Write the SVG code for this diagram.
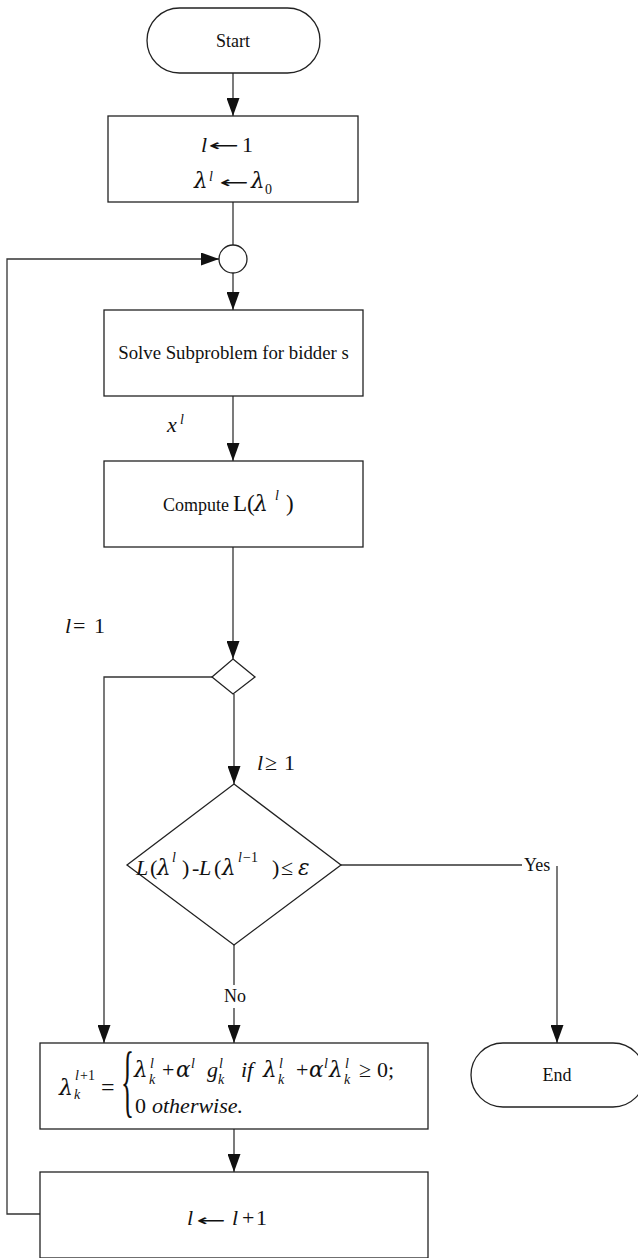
<svg xmlns="http://www.w3.org/2000/svg" width="638" height="1258" viewBox="0 0 638 1258">
<style>
.shape{fill:#fff;stroke:#222;stroke-width:1.3}
.edge{fill:none;stroke:#333;stroke-width:1.3}
text{font-family:"Liberation Serif","Times New Roman",serif;fill:#111}
.t18{font-size:18px}
.m{font-size:22px}
.i{font-style:italic}
.s{font-size:14px}
.g{font-family:"DejaVu Serif",serif;font-style:italic;font-size:21.5px}
.ar{font-family:"DejaVu Sans",sans-serif;font-size:16px}
</style>
<defs>
<marker id="ah" markerUnits="userSpaceOnUse" markerWidth="18" markerHeight="13" refX="18" refY="6.5" orient="auto">
<path d="M0,0 L18,6.5 L0,13 z" fill="#111"/>
</marker>
</defs>
<rect width="638" height="1258" fill="#fff"/>

<g id="connectors">
<line class="edge" x1="233" y1="73" x2="233" y2="116" marker-end="url(#ah)"/>
<line class="edge" x1="233" y1="202" x2="233" y2="245"/>
<line class="edge" x1="233" y1="273" x2="233" y2="310" marker-end="url(#ah)"/>
<line class="edge" x1="233" y1="396" x2="233" y2="461" marker-end="url(#ah)"/>
<line class="edge" x1="233" y1="547" x2="233" y2="659" marker-end="url(#ah)"/>
<line class="edge" x1="234" y1="694" x2="234" y2="784" marker-end="url(#ah)"/>
<polyline class="edge" points="212,677 104,677 104,1043" marker-end="url(#ah)"/>
<line class="edge" x1="234" y1="945" x2="234" y2="985"/>
<line class="edge" x1="234" y1="1008" x2="234" y2="1043" marker-end="url(#ah)"/>
<line class="edge" x1="341" y1="865" x2="522" y2="865"/>
<line class="edge" x1="557" y1="866" x2="557" y2="1043" marker-end="url(#ah)"/>
<line class="edge" x1="234" y1="1129" x2="234" y2="1172" marker-end="url(#ah)"/>
<polyline class="edge" points="40,1214 7,1214 7,259 219,259" marker-end="url(#ah)"/>
<text class="t18" x="524" y="871">Yes</text>
<text class="t18" x="224" y="1002">No</text>
<text class="m i" x="167" y="432">x</text><text class="s i" x="180" y="424">l</text>
<text class="m" y="633"><tspan class="i" x="65">l</tspan><tspan x="73">=</tspan><tspan x="94">1</tspan></text>
<text class="m" y="770"><tspan class="i" x="257">l</tspan><tspan x="265">≥</tspan><tspan x="284">1</tspan></text>
</g>

<g id="start">
<rect class="shape" x="147" y="8" width="173" height="65" rx="32.5" ry="32.5"/>
<text class="t18" x="233" y="47" text-anchor="middle">Start</text>
</g>

<g id="init">
<rect class="shape" x="108" y="116" width="250" height="86"/>
<text class="m" y="152"><tspan class="i" x="201">l</tspan><tspan x="242">1</tspan></text>
<text class="ar" transform="translate(208,151) scale(2.3,1)">←</text>
<text class="g" x="194" y="188">λ</text>
<text class="g" x="251" y="188">λ</text>
<text class="ar" transform="translate(219,188) scale(2.2,1)">←</text>
<text class="s i" x="209" y="181">l</text>
<text class="s" x="265" y="194">0</text>
</g>

<g id="merge">
<circle class="shape" cx="233" cy="259" r="14"/>
</g>

<g id="solve">
<rect class="shape" x="104" y="310" width="259" height="86"/>
<text class="t18" x="233.5" y="359" text-anchor="middle" style="font-size:18.8px">Solve Subproblem for bidder s</text>
</g>

<g id="compute">
<rect class="shape" x="104" y="461" width="259" height="86"/>
<text class="t18" x="163" y="511">Compute</text>
<text class="m" y="511" style="font-size:23px"><tspan x="233">L(</tspan><tspan x="286">)</tspan></text>
<text class="g" x="254" y="511" style="font-size:22px">λ</text>
<text class="s i" x="275" y="500">l</text>
</g>

<g id="check-first">
<polygon class="shape" points="233,659 255,677 233,694 212,677"/>
</g>

<g id="converge">
<polygon class="shape" points="234,784 341,865 234,945 127,865"/>
<text class="m" y="875"><tspan class="i" x="136">L</tspan><tspan x="150">(</tspan><tspan x="182">)</tspan><tspan x="192">-</tspan><tspan class="i" x="199">L</tspan><tspan x="214">(</tspan><tspan x="272">)</tspan><tspan x="281">≤</tspan></text>
<text class="g" y="875"><tspan x="157">λ</tspan><tspan x="222">λ</tspan><tspan x="298">ε</tspan></text>
<text class="s" y="862"><tspan class="i" x="172">l</tspan><tspan class="i" x="238">l</tspan><tspan x="243">−1</tspan></text>
</g>

<g id="update">
<rect class="shape" x="40" y="1043" width="388" height="86"/>
<text class="g" style="font-size:22px" x="59" y="1095">λ</text>
<text class="m" style="font-size:24px" x="101" y="1095">=</text>
<text class="s" y="1080"><tspan class="i" x="75">l</tspan><tspan x="80">+1</tspan></text>
<text class="s i" x="74" y="1099">k</text>
<text transform="translate(121,1107) scale(0.34,1)" style="font-size:80px">{</text>
<text class="m" y="1077"><tspan x="162">+</tspan><tspan class="i" x="241">if</tspan><tspan x="296">+</tspan><tspan x="359">≥</tspan><tspan x="377">0;</tspan></text>
<text class="g" y="1077"><tspan x="134">λ</tspan><tspan x="176">α</tspan><tspan x="263">λ</tspan><tspan x="309">α</tspan><tspan x="329">λ</tspan></text>
<text class="m i" x="207" y="1077">g</text>
<text class="s i" y="1068"><tspan x="150">l</tspan><tspan x="191">l</tspan><tspan x="219">l</tspan><tspan x="279">l</tspan><tspan x="324">l</tspan><tspan x="345">l</tspan></text>
<text class="s i" y="1084"><tspan x="149">k</tspan><tspan x="218">k</tspan><tspan x="278">k</tspan><tspan x="344">k</tspan></text>
<text class="m" y="1113"><tspan x="135">0</tspan><tspan class="i" x="152">otherwise.</tspan></text>
</g>

<g id="increment">
<rect class="shape" x="40" y="1172" width="388" height="86"/>
<text class="m" y="1225"><tspan class="i" x="187">l</tspan><tspan class="i" x="232">l</tspan><tspan x="242">+</tspan><tspan x="256">1</tspan></text>
<text class="ar" transform="translate(196,1226) scale(2.2,1)">←</text>
</g>

<g id="end">
<rect class="shape" x="471" y="1043" width="174" height="64" rx="32" ry="32"/>
<text class="t18" x="557" y="1081" text-anchor="middle">End</text>
</g>
</svg>
